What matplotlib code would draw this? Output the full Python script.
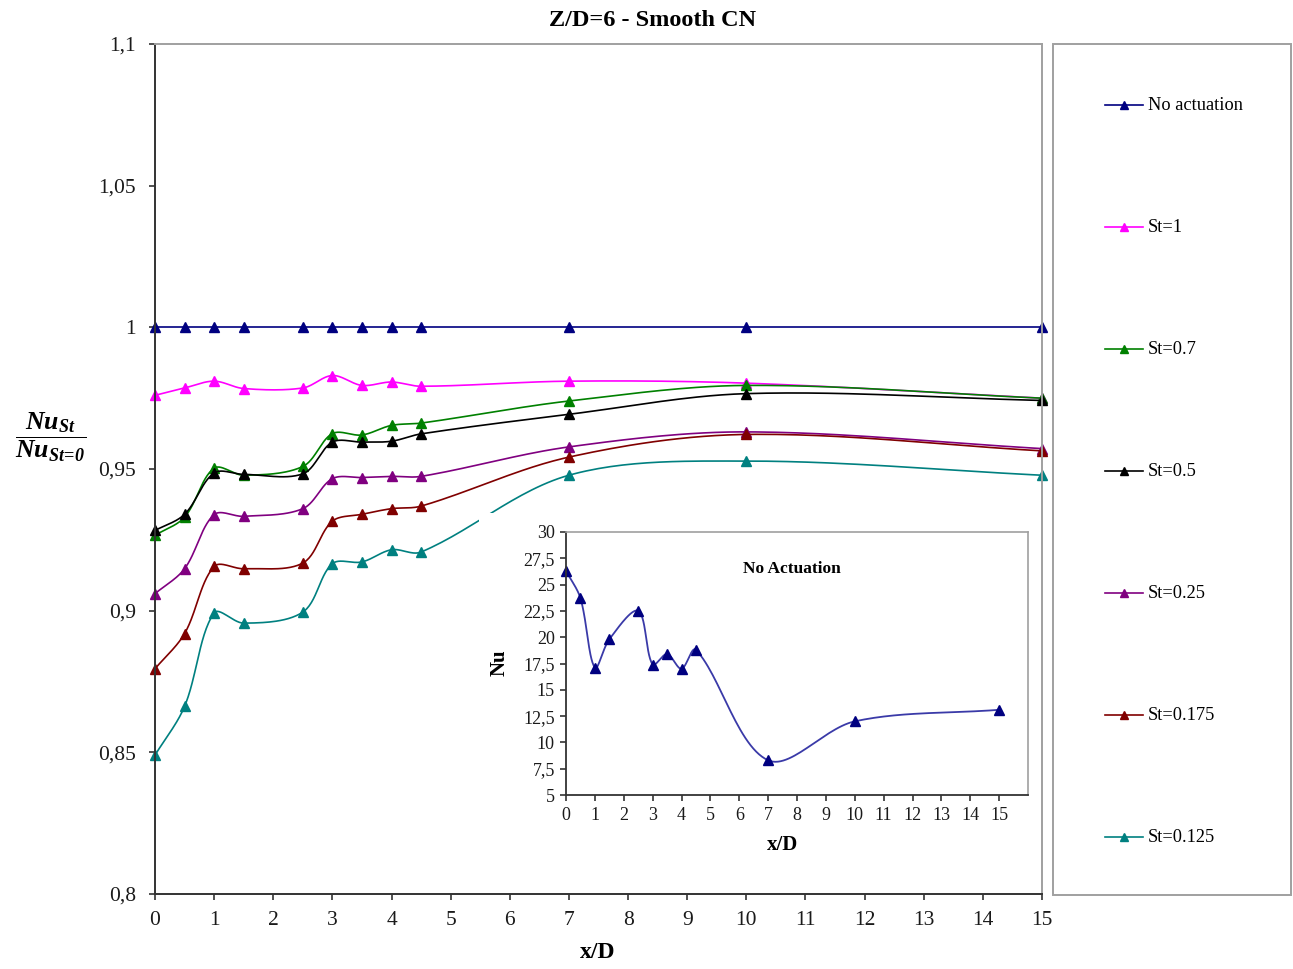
import numpy as np
import matplotlib
matplotlib.use("Agg")
import matplotlib.pyplot as plt
from matplotlib.patches import Rectangle
from matplotlib.lines import Line2D

plt.rcParams['font.family'] = ['Liberation Serif', 'DejaVu Serif']
plt.rcParams['mathtext.fontset'] = 'custom'
plt.rcParams['mathtext.rm'] = 'Liberation Serif:bold:italic'
plt.rcParams['mathtext.it'] = 'Liberation Serif:bold:italic'
plt.rcParams['mathtext.bf'] = 'Liberation Serif:bold'

# ---------------- data ----------------
x_d = [0, 0.5, 1, 1.5, 2.5, 3, 3.5, 4, 4.5, 7, 10, 15]

no_actuation = [1, 1, 1, 1, 1, 1, 1, 1, 1, 1, 1, 1]
st_1     = [0.976, 0.9786, 0.981, 0.9784, 0.9786, 0.983, 0.9795, 0.9807, 0.9792, 0.981, 0.9803, 0.975]
st_07    = [0.9266, 0.933, 0.9503, 0.9478, 0.9509, 0.9625, 0.962, 0.9654, 0.9662, 0.974, 0.9795, 0.975]
st_05    = [0.9283, 0.934, 0.9486, 0.9481, 0.9483, 0.9595, 0.9595, 0.9598, 0.9624, 0.9693, 0.9766, 0.9742]
st_025   = [0.906, 0.9148, 0.9339, 0.9333, 0.936, 0.9466, 0.947, 0.9474, 0.9474, 0.9578, 0.9631, 0.9572]
st_0175  = [0.8795, 0.8919, 0.9156, 0.9148, 0.9168, 0.9316, 0.934, 0.936, 0.9369, 0.9542, 0.9622, 0.9564]
st_0125  = [0.849, 0.8662, 0.8992, 0.8956, 0.8995, 0.9166, 0.9172, 0.9215, 0.9207, 0.9478, 0.9528, 0.9478]

series_labels = ['No actuation', 'St=1', 'St=0.7', 'St=0.5', 'St=0.25', 'St=0.175', 'St=0.125']
series_values = [no_actuation, st_1, st_07, st_05, st_025, st_0175, st_0125]
series_colors = ['#000080', '#ff00ff', '#008000', '#000000', '#800080', '#800000', '#008080']

inset_nu = [26.3, 23.7, 17.1, 19.8, 22.5, 17.4, 18.4, 17.0, 18.8, 8.3, 12.0, 13.1]

main_yticks = [0.8, 0.85, 0.9, 0.95, 1.0, 1.05, 1.1]
main_ytick_labels = ['0,8', '0,85', '0,9', '0,95', '1', '1,05', '1,1']
inset_yticks = [5, 7.5, 10, 12.5, 15, 17.5, 20, 22.5, 25, 27.5, 30]
inset_ytick_labels = ['5', '7,5', '10', '12,5', '15', '17,5', '20', '22,5', '25', '27,5', '30']


def smooth(xs, ys, sx=1.0, sy=1.0, n=30):
    """Excel-like smoothed line: cubic Bezier through the points with
    chord-length scaled tangents (computed in pixel space via sx, sy)."""
    P = np.column_stack([np.asarray(xs, float) * sx, np.asarray(ys, float) * sy])
    m = len(P)
    out = [P[0]]
    t = np.linspace(0, 1, n)[1:][:, None]
    for i in range(m - 1):
        p0 = P[i - 1] if i > 0 else P[i]
        p1 = P[i]
        p2 = P[i + 1]
        p3 = P[i + 2] if i + 2 < m else P[i + 1]
        d01 = np.hypot(*(p1 - p0))
        d12 = np.hypot(*(p2 - p1))
        d23 = np.hypot(*(p3 - p2))
        f1 = d12 / (d01 + d12) / 3.0 if d01 + d12 > 0 else 0
        f2 = d12 / (d12 + d23) / 3.0 if d12 + d23 > 0 else 0
        c1 = p1 + (p2 - p0) * f1
        c2 = p2 - (p3 - p1) * f2
        seg = ((1 - t) ** 3) * p1 + 3 * ((1 - t) ** 2) * t * c1 + 3 * (1 - t) * t ** 2 * c2 + t ** 3 * p2
        out.extend(seg)
    out = np.array(out)
    return out[:, 0] / sx, out[:, 1] / sy


W, H = 1293, 969
fig = plt.figure(figsize=(W / 100, H / 100), dpi=100)


def fx(px):
    return px / W


def fy(py):
    return 1 - py / H


# ---------------- main axes ----------------
L, R, T, B = 155, 1042, 44, 894
ax = fig.add_axes([fx(L), fy(B), fx(R) - fx(L), fy(T) - fy(B)])
ax.set_zorder(0)
msx = (R - L) / 15.0
msy = (B - T) / 0.3
for vals, col in zip(series_values, series_colors):
    sx, sy = smooth(x_d, vals, msx, msy)
    ax.plot(sx, sy, color=col, lw=1.2, clip_on=False)
    ax.plot(x_d, vals, linestyle='none', marker='^', ms=6.5, color=col, clip_on=False)

ax.set_xlim(0, 15)
ax.set_ylim(0.8, 1.1)
ax.set_xticks(range(0, 16))
ax.set_yticks(main_yticks)
ax.set_yticklabels(main_ytick_labels)
ax.tick_params(axis='both', direction='out', length=4.5, width=1.2, color='#333333',
               labelsize=15.5, labelcolor='#1a1a1a')
ax.tick_params(axis='y', pad=9)
ax.tick_params(axis='x', pad=8)
for s in ['left', 'bottom']:
    ax.spines[s].set_color('#333333')
    ax.spines[s].set_linewidth(1.4)
for s in ['top', 'right']:
    ax.spines[s].set_color('#a0a0a0')
    ax.spines[s].set_linewidth(1.4)

fig.text(fx(598), fy(952), 'x/D', ha='center', va='center', fontsize=17, fontweight='bold')
fig.text(fx(653), fy(20), 'Z/D=6 - Smooth CN', ha='center', va='center', fontsize=17.5, fontweight='bold')
fig.text(fx(51), fy(437), r'$\dfrac{Nu_{St}}{Nu_{St\!=\!0}}$', ha='center', va='center', fontsize=18.5)

# ---------------- inset chart area (white) ----------------
bg = fig.add_axes([fx(479), fy(868), fx(1036) - fx(479), fy(513) - fy(868)])
bg.set_zorder(1)
bg.set_facecolor('white')
bg.set_xticks([])
bg.set_yticks([])
for s in bg.spines.values():
    s.set_visible(False)

# ---------------- inset axes ----------------
iL, iR, iT, iB = 566, 1028, 532, 795
ax2 = fig.add_axes([fx(iL), fy(iB), fx(iR) - fx(iL), fy(iT) - fy(iB)])
ax2.set_zorder(2)
isx = (iR - iL) / 16.0
isy = (iB - iT) / 25.0
sx, sy = smooth(x_d, inset_nu, isx, isy)
ax2.plot(sx, sy, color='#3a3aa8', lw=1.3, clip_on=False)
ax2.plot(x_d, inset_nu, linestyle='none', marker='^', ms=6.5, color='#000080', clip_on=False)
ax2.set_xlim(0, 16)
ax2.set_ylim(5, 30)
ax2.set_xticks(range(0, 16))
ax2.set_yticks(inset_yticks)
ax2.set_yticklabels(inset_ytick_labels)
ax2.tick_params(axis='both', direction='out', length=4, width=1.2, color='#333333',
                labelsize=13, labelcolor='#1a1a1a')
ax2.tick_params(axis='y', pad=4)
ax2.tick_params(axis='x', pad=5)
for s in ['left', 'bottom']:
    ax2.spines[s].set_color('#333333')
    ax2.spines[s].set_linewidth(1.3)
for s in ['top', 'right']:
    ax2.spines[s].set_color('#a0a0a0')
    ax2.spines[s].set_linewidth(1.2)
ax2.text(0.489, 0.86, 'No Actuation', transform=ax2.transAxes, ha='center', va='center',
         fontsize=12.5, fontweight='bold')
fig.text(fx(500), fy(663), 'Nu', rotation=90, ha='center', va='center', fontsize=15, fontweight='bold',
         zorder=3)
fig.text(fx(783), fy(845), 'x/D', ha='center', va='center', fontsize=15, fontweight='bold', zorder=3)

# ---------------- legend box ----------------
fig.patches.append(Rectangle((fx(1053), fy(895)), fx(1291) - fx(1053), fy(44) - fy(895),
                             transform=fig.transFigure, facecolor='white', edgecolor='#a0a0a0',
                             lw=1.4, zorder=0))
for i, (lab, col) in enumerate(zip(series_labels, series_colors)):
    yy = fy(105 + 122 * i)
    fig.lines.append(Line2D([fx(1105), fx(1143)], [yy, yy], color=col, lw=1.2,
                            transform=fig.transFigure))
    fig.lines.append(Line2D([fx(1124)], [yy], color=col, marker='^', ms=5.5, linestyle='none',
                            transform=fig.transFigure))
    fig.text(fx(1148), yy, lab, ha='left', va='center', fontsize=13.2)

fig.savefig('out.png', dpi=100)
